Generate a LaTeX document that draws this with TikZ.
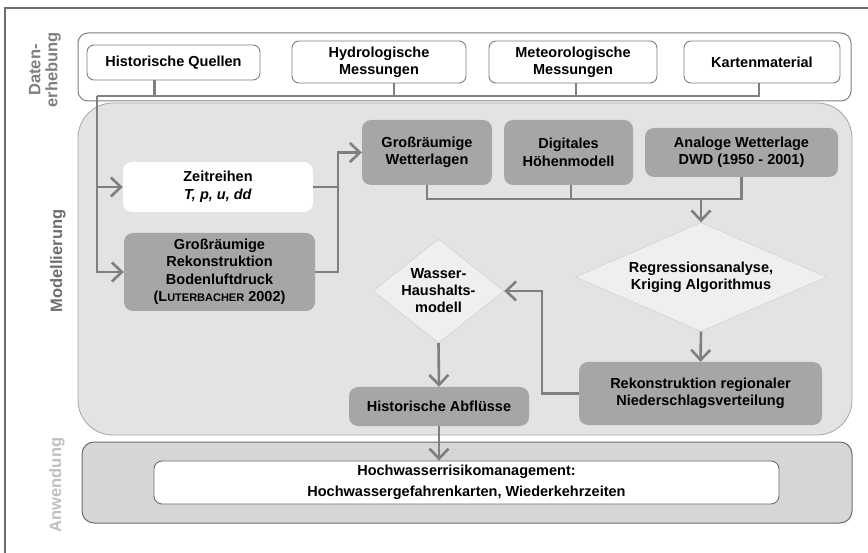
\documentclass[tikz,border=0pt]{standalone}
\usepackage{fontspec}
\setmainfont{Liberation Sans}
\usetikzlibrary{shapes.geometric,arrows.meta}

\definecolor{rahmengrau}{HTML}{6E6E6E}
\definecolor{liniengrau}{HTML}{7F7F7F}
\definecolor{kastengrau}{HTML}{A6A6A6}
\definecolor{ebenengrau}{HTML}{E3E3E3}
\definecolor{anwendgrau}{HTML}{D6D6D6}
\definecolor{rautengrau}{HTML}{EFEFEF}

\tikzset{
  quelle/.style={draw=liniengrau, fill=white, line width=0.9pt, rounded corners=7pt,
    align=center, inner sep=2pt, font=\bfseries\fontsize{14.5}{17}\selectfont},
  modul/.style={fill=kastengrau, rounded corners=9pt, align=center, inner sep=2pt,
    font=\bfseries\fontsize{14.5}{17.5}\selectfont},
  raute/.style={diamond, fill=rautengrau, draw=rautengrau!85!black, line width=0.4pt,
    align=center, inner sep=0pt, font=\bfseries\fontsize{14.5}{17}\selectfont},
  linie/.style={draw=liniengrau, line width=2.6pt},
  pfeil/.style={linie, -{Straight Barb[length=10pt,width=19pt]}},
  ebene/.style={rotate=90, align=center, font=\bfseries\fontsize{16.5}{17}\selectfont},
}

\begin{document}
\begin{tikzpicture}[x=1pt,y=-1pt]
  \useasboundingbox (0,0) rectangle (868,553);
  % rahmen
  \draw[rahmengrau, line width=1.3pt] (5,553) -- (5,8) -- (868,8);

  % ebenen
  \draw[liniengrau, line width=1pt, fill=white, rounded corners=10pt] (78,33) rectangle (851,101);
  \draw[liniengrau!70, line width=0.8pt, fill=ebenengrau, rounded corners=35pt] (78,103) rectangle (852,435);
  \draw[rahmengrau, line width=1pt, fill=anwendgrau, rounded corners=12pt] (82,442) rectangle (852,523);

  \node[ebene, text=liniengrau] (tDaten) at (45,70) {Daten-\\erhebung};
  \node[ebene, text=rahmengrau] (tModell) at (58,261) {Modellierung};
  \node[ebene, text=black!25] (tAnwend) at (57,485) {Anwendung};

  % datenerhebung
  \node[quelle, minimum width=173pt, minimum height=35pt] (hq) at (173.5,62.5) {Historische Quellen};
  \node[quelle, minimum width=174pt, minimum height=42pt] (hm) at (379,62) {Hydrologische\\Messungen};
  \node[quelle, minimum width=168pt, minimum height=42pt] (mm) at (573,62) {Meteorologische\\Messungen};
  \node[quelle, minimum width=156pt, minimum height=42pt] (km) at (762,62) {Kartenmaterial};

  % modellierung
  \node[modul, fill=white, minimum width=190pt, minimum height=50pt] (zr) at (218,187)
    {Zeitreihen\\\textit{T, p, u, dd}};
  \node[modul, minimum width=191pt, minimum height=78pt] (gb) at (219.5,272)
    {Gro\ss{}r\"aumige\\Rekonstruktion\\Bodenluftdruck\\(L{\fontsize{11}{12}\selectfont UTERBACHER} 2002)};
  \node[modul, minimum width=130pt, minimum height=65pt] (gw) at (427,152.5) {Gro\ss{}r\"aumige\\Wetterlagen};
  \node[modul, minimum width=129pt, minimum height=65pt] (dh) at (568.5,152.5) {Digitales\\H\"ohenmodell};
  \node[modul, minimum width=193pt, minimum height=49pt] (aw) at (741.5,152.5) {Analoge Wetterlage\\DWD (1950 - 2001)};
  \node[raute, aspect=2.3, minimum width=251pt, minimum height=109pt] (rk) at (701,277)
    {Regressionsanalyse,\\Kriging Algorithmus};
  \node[modul, minimum width=243pt, minimum height=63pt] (rn) at (700.5,393.5)
    {Rekonstruktion regionaler\\Niederschlagsverteilung};
  \node[raute, aspect=1.26, minimum width=131pt, minimum height=104pt] (wh) at (438.5,291)
    {Wasser-\\Haushalts-\\modell};
  \node[modul, minimum width=180pt, minimum height=39pt] (ha) at (439,406.5) {Historische Abfl\"usse};

  % anwendung
  \node[quelle, draw=rahmengrau, rounded corners=8pt, minimum width=625pt, minimum height=43pt,
    font=\bfseries\fontsize{14.5}{21}\selectfont] (hw) at (466.5,482.5)
    {Hochwasserrisikomanagement:\\Hochwassergefahrenkarten, Wiederkehrzeiten};

  \coordinate (db) at (97,96);
  \coordinate (mj) at (338,152.5);
  \coordinate (tb) at (0,199);
  \coordinate (rj) at (542,291);

  \begin{scope}[linie]
    \draw ([xshift=-19pt]hq.south) -- ([xshift=-19pt]hq.south |- db);
    \draw ([xshift=15pt]hm.south) -- ([xshift=15pt]hm.south |- db);
    \draw ([xshift=3pt]mm.south) -- ([xshift=3pt]mm.south |- db);
    \draw ([xshift=-3pt]km.south) |- (db);
    \draw (zr.east) -- (zr.east -| mj);
    \draw (gw.south) |- (tb -| aw.south) -- (aw.south);
    \draw ([xshift=2.5pt]dh.south) -- ([xshift=2.5pt]dh.south |- tb);
  \end{scope}
  \begin{scope}[pfeil]
    \draw (db) |- (zr.west);
    \draw (db) |- (gb.west);
    \draw (gb.east) -| (mj) -- (gw.west);
    \draw (tb -| rk.north) -- (rk.north);
    \draw (rk.south) -- (rn.north);
    \draw (rn.west) -| (rj) -- (wh.east);
    \draw (wh.south) -- (ha.north);
    \draw (ha.south) -- (ha.south |- hw.north);
  \end{scope}
\end{tikzpicture}
\end{document}
